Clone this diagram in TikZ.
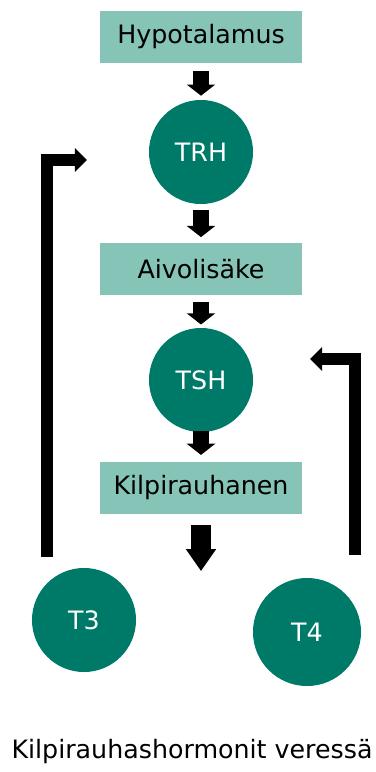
\documentclass[tikz,border=0pt]{standalone}
\usepackage{fontspec}
\setmainfont{DejaVu Sans}
\usetikzlibrary{arrows.meta}

\definecolor{darkteal}{RGB}{0,122,104}
\definecolor{lightteal}{RGB}{133,196,182}

\begin{document}
\begin{tikzpicture}[x=0.025cm,y=-0.025cm,
  font=\fontsize{18}{21}\selectfont,
  gland/.style={rectangle,fill=lightteal,
  minimum width=5.05cm,minimum height=1.28cm,inner sep=0pt},
  hormone/.style={circle,fill=darkteal,text=white,
  minimum size=2.6cm,inner sep=0pt},
  downarrow/.style={line width=0.375cm,
  -{Triangle[width=0.7cm,length=0.28cm]}},
  bigarrow/.style={line width=0.5cm,
  -{Triangle[width=0.72cm,length=0.55cm]}},
  feedback/.style={line width=0.3cm,
  -{Triangle[width=0.58cm,length=0.3cm]}}]
  \useasboundingbox (0,0) rectangle (376,772);

  % the chain
  \node[gland] (hypo) at (201,37) {Hypotalamus};
  \node[hormone] (trh) at (201,152) {TRH};
  \node[gland] (aivo) at (201,269) {Aivolisäke};
  \node[hormone] (tsh) at (201,380) {TSH};
  \node[gland] (kilpi) at (201,488) {Kilpirauhanen};

  % hormones in blood
  \node[hormone] (t3) at (84,620) {T3};
  \node[hormone,minimum size=2.7cm] (t4) at (307,632) {T4};
  \node (veri) at (192,752) {Kilpirauhashormonit veressä};

  \draw[downarrow] ([yshift=-0.2cm]hypo.south) -- ([yshift=0.1cm]trh.north);
  \draw[downarrow] ([yshift=-0.15cm]trh.south) -- ([yshift=0.15cm]aivo.north);
  \draw[downarrow] ([yshift=-0.18cm]aivo.south) -- ([yshift=0.08cm]tsh.north);
  \draw[downarrow] ([yshift=0.03cm]tsh.south) -- ([yshift=0.18cm]kilpi.north);
  \draw[bigarrow] ([yshift=-0.28cm]kilpi.south) -- ([yshift=-1.43cm]kilpi.south);

  % feedback
  \coordinate (t3up) at (47,557);
  \coordinate (t3in) at (87,160);
  \coordinate (t4up) at (355,555);
  \coordinate (t4in) at (310,359);
  \draw[feedback] (t3up) |- (t3in);
  \draw[feedback] (t4up) |- (t4in);
\end{tikzpicture}
\end{document}
